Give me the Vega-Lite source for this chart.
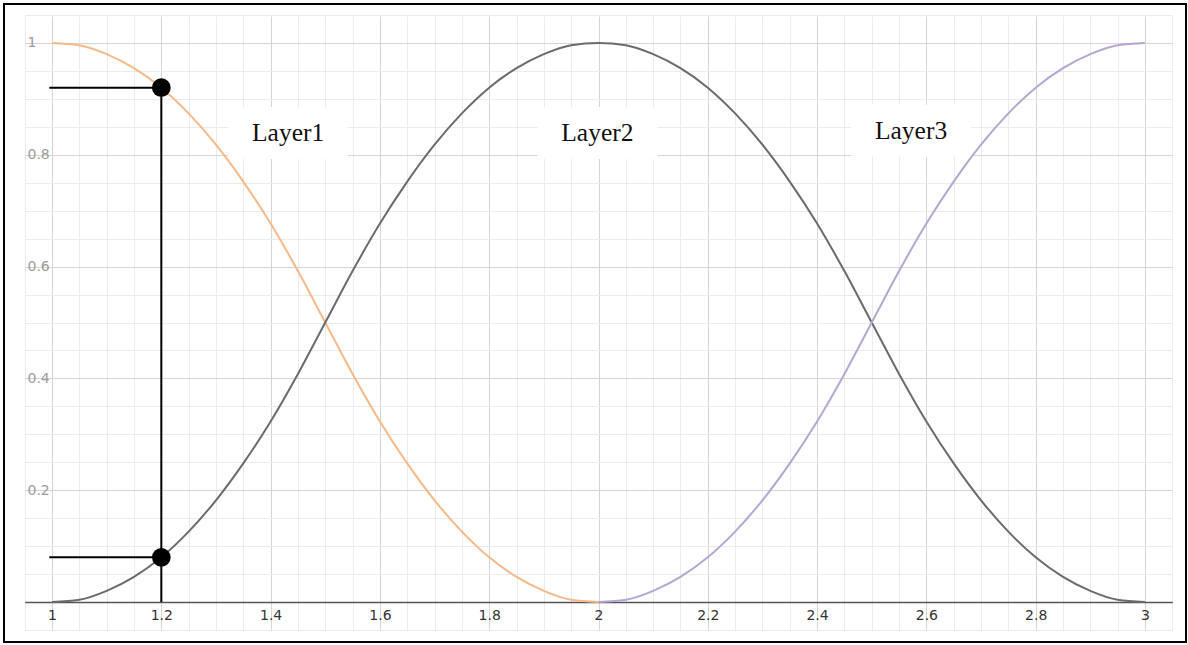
{
  "$schema": "https://vega.github.io/schema/vega-lite/v6.json",
  "width": 1182,
  "height": 638,
  "autosize": {"type": "none"},
  "padding": {"left": 4, "top": 4, "right": 2, "bottom": 3},
  "background": "white",
  "config": {"view": {"stroke": "#000000", "strokeWidth": 2}},
  "datasets": {
    "curves": [
      {"series": "Layer1", "x": 1.00, "y": 1.000},
      {"series": "Layer1", "x": 1.05, "y": 0.996},
      {"series": "Layer1", "x": 1.10, "y": 0.980},
      {"series": "Layer1", "x": 1.15, "y": 0.955},
      {"series": "Layer1", "x": 1.20, "y": 0.920},
      {"series": "Layer1", "x": 1.25, "y": 0.874},
      {"series": "Layer1", "x": 1.30, "y": 0.818},
      {"series": "Layer1", "x": 1.35, "y": 0.752},
      {"series": "Layer1", "x": 1.40, "y": 0.677},
      {"series": "Layer1", "x": 1.45, "y": 0.592},
      {"series": "Layer1", "x": 1.50, "y": 0.500},
      {"series": "Layer1", "x": 1.55, "y": 0.408},
      {"series": "Layer1", "x": 1.60, "y": 0.323},
      {"series": "Layer1", "x": 1.65, "y": 0.248},
      {"series": "Layer1", "x": 1.70, "y": 0.182},
      {"series": "Layer1", "x": 1.75, "y": 0.126},
      {"series": "Layer1", "x": 1.80, "y": 0.080},
      {"series": "Layer1", "x": 1.85, "y": 0.045},
      {"series": "Layer1", "x": 1.90, "y": 0.020},
      {"series": "Layer1", "x": 1.95, "y": 0.004},
      {"series": "Layer1", "x": 2.00, "y": 0.000},
      {"series": "Layer2", "x": 1.00, "y": 0.000},
      {"series": "Layer2", "x": 1.05, "y": 0.004},
      {"series": "Layer2", "x": 1.10, "y": 0.020},
      {"series": "Layer2", "x": 1.15, "y": 0.045},
      {"series": "Layer2", "x": 1.20, "y": 0.080},
      {"series": "Layer2", "x": 1.25, "y": 0.126},
      {"series": "Layer2", "x": 1.30, "y": 0.182},
      {"series": "Layer2", "x": 1.35, "y": 0.248},
      {"series": "Layer2", "x": 1.40, "y": 0.323},
      {"series": "Layer2", "x": 1.45, "y": 0.408},
      {"series": "Layer2", "x": 1.50, "y": 0.500},
      {"series": "Layer2", "x": 1.55, "y": 0.592},
      {"series": "Layer2", "x": 1.60, "y": 0.677},
      {"series": "Layer2", "x": 1.65, "y": 0.752},
      {"series": "Layer2", "x": 1.70, "y": 0.818},
      {"series": "Layer2", "x": 1.75, "y": 0.874},
      {"series": "Layer2", "x": 1.80, "y": 0.920},
      {"series": "Layer2", "x": 1.85, "y": 0.955},
      {"series": "Layer2", "x": 1.90, "y": 0.980},
      {"series": "Layer2", "x": 1.95, "y": 0.996},
      {"series": "Layer2", "x": 2.00, "y": 1.000},
      {"series": "Layer2", "x": 2.05, "y": 0.996},
      {"series": "Layer2", "x": 2.10, "y": 0.980},
      {"series": "Layer2", "x": 2.15, "y": 0.955},
      {"series": "Layer2", "x": 2.20, "y": 0.920},
      {"series": "Layer2", "x": 2.25, "y": 0.874},
      {"series": "Layer2", "x": 2.30, "y": 0.818},
      {"series": "Layer2", "x": 2.35, "y": 0.752},
      {"series": "Layer2", "x": 2.40, "y": 0.677},
      {"series": "Layer2", "x": 2.45, "y": 0.592},
      {"series": "Layer2", "x": 2.50, "y": 0.500},
      {"series": "Layer2", "x": 2.55, "y": 0.408},
      {"series": "Layer2", "x": 2.60, "y": 0.323},
      {"series": "Layer2", "x": 2.65, "y": 0.248},
      {"series": "Layer2", "x": 2.70, "y": 0.182},
      {"series": "Layer2", "x": 2.75, "y": 0.126},
      {"series": "Layer2", "x": 2.80, "y": 0.080},
      {"series": "Layer2", "x": 2.85, "y": 0.045},
      {"series": "Layer2", "x": 2.90, "y": 0.020},
      {"series": "Layer2", "x": 2.95, "y": 0.004},
      {"series": "Layer2", "x": 3.00, "y": 0.000},
      {"series": "Layer3", "x": 2.00, "y": 0.000},
      {"series": "Layer3", "x": 2.05, "y": 0.004},
      {"series": "Layer3", "x": 2.10, "y": 0.020},
      {"series": "Layer3", "x": 2.15, "y": 0.045},
      {"series": "Layer3", "x": 2.20, "y": 0.080},
      {"series": "Layer3", "x": 2.25, "y": 0.126},
      {"series": "Layer3", "x": 2.30, "y": 0.182},
      {"series": "Layer3", "x": 2.35, "y": 0.248},
      {"series": "Layer3", "x": 2.40, "y": 0.323},
      {"series": "Layer3", "x": 2.45, "y": 0.408},
      {"series": "Layer3", "x": 2.50, "y": 0.500},
      {"series": "Layer3", "x": 2.55, "y": 0.592},
      {"series": "Layer3", "x": 2.60, "y": 0.677},
      {"series": "Layer3", "x": 2.65, "y": 0.752},
      {"series": "Layer3", "x": 2.70, "y": 0.818},
      {"series": "Layer3", "x": 2.75, "y": 0.874},
      {"series": "Layer3", "x": 2.80, "y": 0.920},
      {"series": "Layer3", "x": 2.85, "y": 0.955},
      {"series": "Layer3", "x": 2.90, "y": 0.980},
      {"series": "Layer3", "x": 2.95, "y": 0.996},
      {"series": "Layer3", "x": 3.00, "y": 1.000}
    ],
    "labels": [
      {"label": "Layer1", "x": 1.432, "y": 0.839},
      {"label": "Layer2", "x": 1.998, "y": 0.839},
      {"label": "Layer3", "x": 2.572, "y": 0.843}
    ],
    "guides": [
      {"x": 0.995, "x2": 1.2, "y": 0.920, "y2": 0.920},
      {"x": 0.995, "x2": 1.2, "y": 0.080, "y2": 0.080},
      {"x": 1.2, "x2": 1.2, "y": 0.0, "y2": 0.920}
    ],
    "dots": [
      {"x": 1.2, "y": 0.920},
      {"x": 1.2, "y": 0.080}
    ]
  },
  "encoding": {
    "x": {
      "field": "x",
      "type": "quantitative",
      "scale": {"domain": [0.95, 3.05], "range": [20.7, 1168.3], "nice": false, "zero": false},
      "axis": {
        "title": null,
        "orient": "bottom",
        "offset": -40,
        "values": [0.95, 1, 1.05, 1.1, 1.15, 1.2, 1.25, 1.3, 1.35, 1.4, 1.45, 1.5, 1.55, 1.6, 1.65, 1.7, 1.75, 1.8, 1.85, 1.9, 1.95, 2, 2.05, 2.1, 2.15, 2.2, 2.25, 2.3, 2.35, 2.4, 2.45, 2.5, 2.55, 2.6, 2.65, 2.7, 2.75, 2.8, 2.85, 2.9, 2.95, 3, 3.05],
        "grid": true,
        "gridWidth": 1,
        "gridColor": {"condition": {"test": "abs(datum.value * 5 - round(datum.value * 5)) < 0.001", "value": "#d5d5d5"}, "value": "#ebebeb"},
        "ticks": false,
        "tickSize": 0,
        "domain": true,
        "domainColor": "#555555",
        "domainWidth": 1.5,
        "labelExpr": "abs(datum.value * 5 - round(datum.value * 5)) < 0.001 && datum.value > 0.99 && datum.value < 3.01 ? format(datum.value, '~g') : ''",
        "labelFont": "DejaVu Sans",
        "labelFontSize": 14,
        "labelColor": "#333333",
        "labelPadding": 6,
        "labelOverlap": false,
        "labelFlush": false,
        "labelBound": false
      }
    },
    "y": {
      "field": "y",
      "type": "quantitative",
      "scale": {"domain": [-0.05, 1.05], "range": [626, 11], "nice": false, "zero": false},
      "axis": {
        "title": null,
        "orient": "left",
        "values": [-0.05, 0, 0.05, 0.1, 0.15, 0.2, 0.25, 0.3, 0.35, 0.4, 0.45, 0.5, 0.55, 0.6, 0.65, 0.7, 0.75, 0.8, 0.85, 0.9, 0.95, 1, 1.05],
        "grid": true,
        "gridWidth": 1,
        "gridColor": {"condition": {"test": "abs(datum.value * 5 - round(datum.value * 5)) < 0.001", "value": "#d5d5d5"}, "value": "#ebebeb"},
        "ticks": false,
        "tickSize": 0,
        "domain": false,
        "labelExpr": "abs(datum.value * 5 - round(datum.value * 5)) < 0.001 && datum.value > 0.1 && datum.value < 1.01 ? format(datum.value, '~g') : ''",
        "labelAlign": "left",
        "labelBaseline": "middle",
        "labelPadding": -23,
        "labelFont": "DejaVu Sans",
        "labelFontSize": 14,
        "labelColor": "#9c9c9c",
        "labelOverlap": false,
        "labelFlush": false,
        "labelBound": false
      }
    }
  },
  "layer": [
    {
      "data": {"name": "labels"},
      "mark": {
        "type": "point",
        "shape": "M-1,-0.433L1,-0.433L1,0.433L-1,0.433Z",
        "size": 14400,
        "filled": true,
        "color": "#ffffff",
        "opacity": 1,
        "strokeWidth": 0
      }
    },
    {
      "data": {"name": "curves"},
      "mark": {"type": "line", "interpolate": "monotone", "strokeWidth": 2},
      "encoding": {
        "color": {
          "field": "series",
          "type": "nominal",
          "scale": {"domain": ["Layer1", "Layer2", "Layer3"], "range": ["#f7b988", "#6b6b6b", "#b5a6d2"]},
          "legend": null
        }
      }
    },
    {
      "data": {"name": "guides"},
      "mark": {"type": "rule", "color": "#000000", "strokeWidth": 2},
      "encoding": {
        "x2": {"field": "x2"},
        "y2": {"field": "y2"}
      }
    },
    {
      "data": {"name": "dots"},
      "mark": {"type": "point", "shape": "circle", "filled": true, "color": "#000000", "opacity": 1, "size": 350}
    },
    {
      "data": {"name": "labels"},
      "mark": {"type": "text", "font": "Liberation Serif", "fontSize": 25.5, "color": "#111111", "align": "center", "baseline": "middle"},
      "encoding": {"text": {"field": "label"}}
    }
  ]
}
